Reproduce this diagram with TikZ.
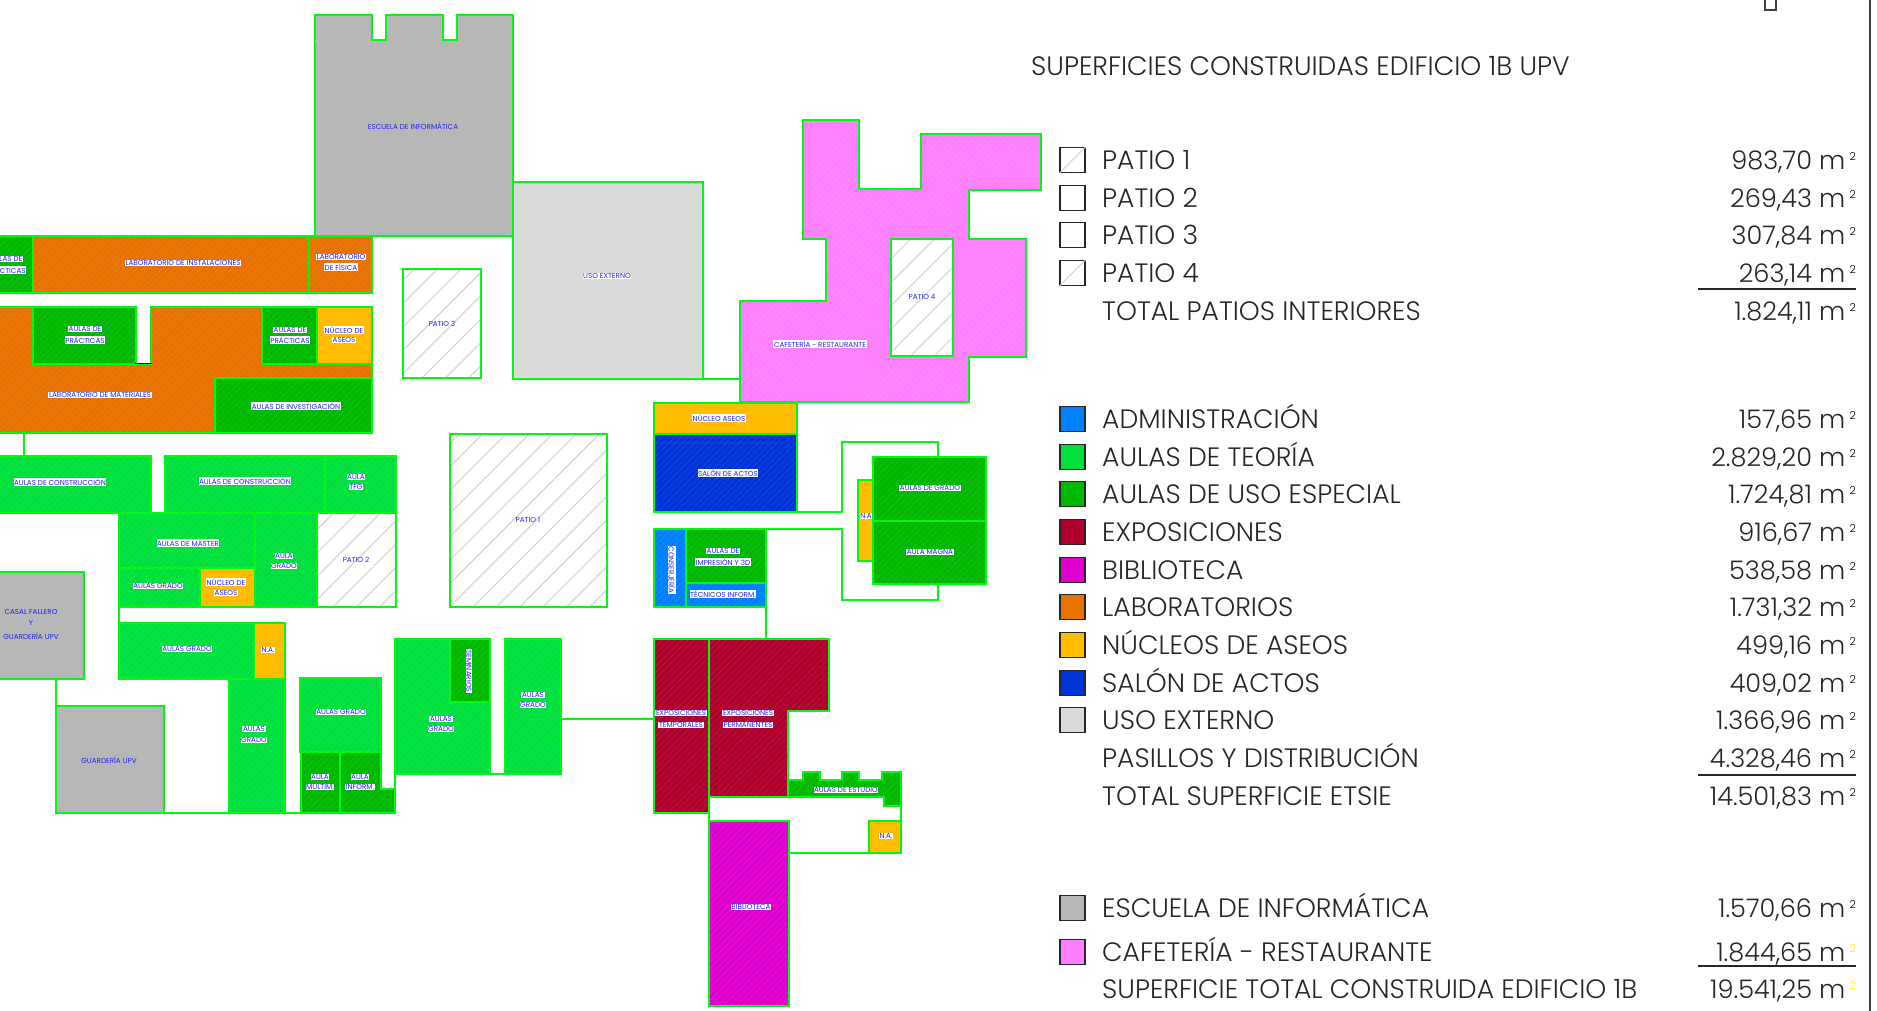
\documentclass[tikz,border=0pt]{standalone}
\usepackage{fontspec}
\setmainfont{Poppins}[UprightFont=* Light]
\newfontfamily\lblfont{Poppins}
\usetikzlibrary{patterns.meta}
\definecolor{wallgreen}{HTML}{00F814}
\definecolor{admin}{HTML}{0080FF}
\definecolor{teoria}{HTML}{00E03C}
\definecolor{especial}{HTML}{00B800}
\definecolor{expo}{HTML}{B0002C}
\definecolor{biblio}{HTML}{DF00D0}
\definecolor{labs}{HTML}{E87200}
\definecolor{aseos}{HTML}{FFBC00}
\definecolor{salon}{HTML}{0033D8}
\definecolor{usoext}{HTML}{D9D9D9}
\definecolor{escuela}{HTML}{B7B7B7}
\definecolor{cafe}{HTML}{FF80FF}
\definecolor{inkblue}{HTML}{2525F0}
\newcommand{\sqm}[1][black]{m\,\raisebox{9pt}{\fontsize{11}{11}\selectfont\textcolor{#1}{2}}}
\tikzset{
  room/.style={preaction={fill=#1},
    preaction={pattern={Lines[angle=45,distance=4.5pt,line width=.35pt]},pattern color=#1!85!white},
    draw=wallgreen,line width=2pt},
  plain/.style={fill=#1,draw=wallgreen,line width=2pt},
  patio/.style={preaction={fill=white},
    preaction={pattern={Lines[angle=45,distance=16.5pt,line width=1pt]},pattern color=black!18},
    draw=wallgreen,line width=2pt},
  wall/.style={draw=wallgreen,line width=2pt},
  lbl/.style={fill=white,inner sep=.6pt,text=inkblue,font=\lblfont\fontsize{7.2}{8}\selectfont},
  bare/.style={inner sep=.6pt,text=inkblue,font=\lblfont\fontsize{7.2}{8}\selectfont},
  keybox/.style={draw=black!85,line width=1.4pt,minimum size=25pt,inner sep=0pt},
  keytxt/.style={anchor=base west,inner sep=0pt,font=\fontsize{26.6}{26.6}\selectfont,text=black!85},
  keyval/.style={anchor=base east,inner sep=0pt,font=\fontsize{25.6}{25.6}\selectfont,text=black!85}
}
\begin{document}
\begin{tikzpicture}
  [x=1pt,y=-1pt]
  \useasboundingbox (0,0) rectangle (1877,1010);

  % top blocks
  \draw[plain=escuela] (315,15) -- (372,15) -- (372,40) -- (386,40) -- (386,15) -- (443,15)
    -- (443,40) -- (457,40) -- (457,15) -- (513,15) -- (513,236) -- (315,236) -- cycle;
  \draw[black!25,line width=.4pt] (315,40) -- (513,236) (315,40) -- (372,40);
  \draw[room=usoext] (513,182) rectangle (703,379);
  \draw[patio] (403,269) rectangle (481,378);
  \draw[patio] (450,434) rectangle (607,607);
  \draw[room=cafe] (803,120) -- (859,120) -- (859,189) -- (921,189) -- (921,134) -- (1041,134)
    -- (1041,190) -- (969,190) -- (969,239) -- (1026,239) -- (1026,357) -- (969,357) -- (969,402)
    -- (740,402) -- (740,301) -- (826,301) -- (826,239) -- (803,239) -- cycle;
  \draw[patio] (891,239) rectangle (953,356);

  % labs
  \draw[room=especial] (-5,236) rectangle (33,293);
  \draw[room=labs] (33,236) rectangle (309,293);
  \draw[room=labs] (309,236) rectangle (372,293);
  \draw[room=labs] (-5,307) -- (136,307) -- (136,364) -- (151,364) -- (151,307) -- (372,307)
    -- (372,433) -- (-5,433) -- cycle;
  \draw[room=especial] (33,307) rectangle (136,364);
  \draw[room=especial] (262,307) rectangle (317,364);
  \draw[plain=aseos] (317,307) rectangle (372,364);
  \draw[room=especial] (215,378) rectangle (372,433);
  \draw[black,line width=1.3pt] (135,363.5) -- (152,363.5);

  % aulas, left side
  \draw[room=teoria] (-5,456) rectangle (151,513);
  \draw[room=teoria] (165,456) rectangle (325,513);
  \draw[room=teoria] (325,456) rectangle (396,513);
  \draw[room=teoria] (119,513) rectangle (255,568);
  \draw[room=teoria] (255,513) rectangle (317,607);
  \draw[patio] (317,513) rectangle (396,607);
  \draw[room=teoria] (119,568) rectangle (200,607);
  \draw[plain=aseos] (200,568) rectangle (255,607);
  \draw[room=teoria] (119,623) rectangle (254,679);
  \draw[plain=aseos] (254,623) rectangle (285,679);
  \draw[room=teoria] (229,679) rectangle (285,813);
  \draw[plain=escuela] (-5,572) rectangle (84,679);
  \draw[black!25,line width=.4pt] (-5,590) -- (84,679);
  \draw[plain=escuela] (56,706) rectangle (164,813);
  \draw[black!25,line width=.4pt] (56,706) -- (164,813);
  \draw[room=teoria] (300,678) rectangle (381,752);
  \draw[room=especial] (301,752) rectangle (340,813);
  \draw[room=especial] (340,752) -- (381,752) -- (381,789) -- (395,789) -- (395,813) -- (340,813) -- cycle;
  \draw[room=teoria] (395,639) rectangle (490,774);
  \draw[room=especial] (450,639) rectangle (490,702);
  \draw[room=teoria] (505,639) rectangle (561,774);

  % centre and right
  \draw[plain=aseos] (654,403) rectangle (797,434);
  \draw[room=salon] (654,434) rectangle (797,512);
  \draw[plain=aseos] (858,480) rectangle (873,561);
  \draw[room=especial] (873,457) rectangle (986,521);
  \draw[room=especial] (873,521) rectangle (986,584);
  \draw[room=admin] (654,529) rectangle (686,607);
  \draw[room=especial] (686,529) rectangle (766,583);
  \draw[room=admin] (686,583) rectangle (766,607);
  \draw[room=expo] (654,639) rectangle (709,813);
  \draw[room=expo] (709,639) -- (829,639) -- (829,711) -- (788,711) -- (788,797) -- (709,797) -- cycle;
  \draw[room=especial] (788,797) -- (788,780) -- (803,780) -- (803,772) -- (820,772) -- (820,780)
    -- (842,780) -- (842,772) -- (859,772) -- (859,780) -- (882,780) -- (882,772) -- (901,772)
    -- (901,806) -- (884,806) -- (884,797) -- cycle;
  \draw[plain=aseos] (869,821) rectangle (901,853);
  \draw[room=biblio] (709,821) rectangle (789,1006);

  % walls
  \coordinate (w1) at (24,433);   \coordinate (w2) at (24,456);
  \coordinate (w3) at (119,607);  \coordinate (w4) at (119,623);
  \coordinate (w5) at (56,679);   \coordinate (w6) at (56,706);
  \coordinate (w7) at (164,813);  \coordinate (w8) at (301,813);
  \coordinate (w9) at (395,774);  \coordinate (w10) at (395,789);
  \coordinate (w11) at (490,774); \coordinate (w12) at (505,774);
  \coordinate (w13) at (561,719); \coordinate (w14) at (654,719);
  \coordinate (w15) at (797,512); \coordinate (w16) at (842,512);
  \coordinate (w17) at (842,442); \coordinate (w18) at (938,442);
  \coordinate (w19) at (938,457); \coordinate (w20) at (938,584);
  \coordinate (w21) at (938,600); \coordinate (w22) at (842,600);
  \coordinate (w23) at (842,529); \coordinate (w24) at (766,529);
  \coordinate (w25) at (766,607); \coordinate (w26) at (766,639);
  \coordinate (w27) at (703,379); \coordinate (w28) at (740,379);
  \coordinate (w29) at (901,806); \coordinate (w30) at (901,821);
  \coordinate (w31) at (789,853); \coordinate (w32) at (869,853);
  \coordinate (w33) at (709,797); \coordinate (w34) at (709,821);
  \foreach \from/\to in {w1/w2,w3/w4,w5/w6,w7/w8,w9/w10,w11/w12,w13/w14,w15/w16,w16/w17,w17/w18,
    w18/w19,w20/w21,w21/w22,w22/w23,w23/w24,w25/w26,w27/w28,w29/w30,w31/w32,w33/w34}
    \draw[wall,line cap=rect] (\from) -- (\to);

  % room labels
  \node[bare] (nEsc) at (413,126) {ESCUELA DE INFORMÁTICA};
  \node[lbl] (nUso) at (607,276) {USO EXTERNO};
  \node[bare] (nPat3) at (442,324) {PATIO 3};
  \node[bare] (nPat1) at (528,520) {PATIO 1};
  \node[bare] (nPat2) at (356,560) {PATIO 2};
  \node[bare] (nPat4) at (922,297) {PATIO 4};
  \node[lbl] (nCafe) at (820,344) {CAFETERÍA - RESTAURANTE};
  \node[lbl] (nPr1a) at (6,259) {AULAS DE};
  \node[lbl] (nPr1b) at (6,270) {PRÁCTICAS};
  \node[lbl] (nInst) at (183,263) {LABORATORIO DE INSTALACIONES};
  \node[lbl] (nFisa) at (341,257) {LABORATORIO};
  \node[lbl] (nFisb) at (341,267) {DE FÍSICA};
  \node[lbl] (nPr2a) at (85,329) {AULAS DE};
  \node[lbl] (nPr2b) at (85,340) {PRÁCTICAS};
  \node[lbl] (nPr3a) at (290,330) {AULAS DE};
  \node[lbl] (nPr3b) at (290,340) {PRÁCTICAS};
  \node[lbl] (nAs1a) at (344,330) {NÚCLEO DE};
  \node[lbl] (nAs1b) at (344,340) {ASEOS};
  \node[lbl] (nMat) at (100,395) {LABORATORIO DE MATERIALES};
  \node[lbl] (nInv) at (296,406) {AULAS DE INVESTIGACIÓN};
  \node[lbl] (nCon1) at (60,482) {AULAS DE CONSTRUCCIÓN};
  \node[lbl] (nCon2) at (245,481) {AULAS DE CONSTRUCCIÓN};
  \node[lbl] (nTfga) at (356,477) {AULA};
  \node[lbl] (nTfgb) at (356,487) {TFG};
  \node[lbl] (nMas) at (188,543) {AULAS DE MÁSTER};
  \node[lbl] (nGr1a) at (284,556) {AULA};
  \node[lbl] (nGr1b) at (284,566) {GRADO};
  \node[lbl] (nGr2) at (158,586) {AULAS GRADO};
  \node[lbl] (nAs2a) at (226,582) {NÚCLEO DE};
  \node[lbl] (nAs2b) at (226,593) {ASEOS};
  \node[lbl] (nGr3) at (187,649) {AULAS GRADO};
  \node[lbl] (nNa1) at (268,650) {N.A.};
  \node[lbl] (nGr4a) at (254,729) {AULAS};
  \node[lbl] (nGr4b) at (254,740) {GRADO};
  \node[bare] (nCasa) at (31,612) {CASAL FALLERO};
  \node[bare] (nCasb) at (31,623) {Y};
  \node[bare] (nCasc) at (31,636) {GUARDERÍA UPV};
  \node[bare] (nGua) at (109,760) {GUARDERÍA UPV};
  \node[lbl] (nGr5) at (341,712) {AULAS GRADO};
  \node[lbl] (nMula) at (320,777) {AULA};
  \node[lbl] (nMulb) at (320,787) {MULTIM.};
  \node[lbl] (nInfa) at (360,777) {AULA};
  \node[lbl] (nInfb) at (360,787) {INFORM.};
  \node[lbl,rotate=-90] (nSem) at (469,671) {SEMINARIOS};
  \node[lbl] (nGr6a) at (441,719) {AULAS};
  \node[lbl] (nGr6b) at (441,729) {GRADO};
  \node[lbl] (nGr7a) at (533,695) {AULAS};
  \node[lbl] (nGr7b) at (533,705) {GRADO};
  \node[lbl] (nAs3) at (719,418) {NÚCLEO ASEOS};
  \node[lbl] (nSal) at (728,473) {SALÓN DE ACTOS};
  \node[lbl] (nNa2) at (866,516) {N.A};
  \node[lbl] (nGr8) at (930,488) {AULAS DE GRADO};
  \node[lbl] (nMag) at (930,552) {AULA MAGNA};
  \node[lbl,rotate=-90] (nCons) at (672,570) {CONSERJERÍA};
  \node[lbl] (nImpa) at (723,551) {AULAS DE};
  \node[lbl] (nImpb) at (723,562) {IMPRESIÓN Y 3D};
  \node[lbl] (nTec) at (723,594) {TÉCNICOS INFORM.};
  \node[lbl] (nExTa) at (681,713) {EXPOSICIONES};
  \node[lbl] (nExTb) at (681,725) {TEMPORALES};
  \node[lbl] (nExPa) at (748,713) {EXPOSICIONES};
  \node[lbl] (nExPb) at (748,725) {PERMANENTES};
  \node[lbl] (nEst) at (846,790) {AULAS DE ESTUDIO};
  \node[lbl] (nNa3) at (886,836) {N.A.};
  \node[lbl] (nBib) at (751,907) {BIBLIOTECA};

  % key
  \node[keytxt] (title) at (1031,75) {SUPERFICIES CONSTRUIDAS EDIFICIO 1B UPV};
  \foreach \y/\col/\txt/\val in {160/white/PATIO 1/{983,70},198/white/PATIO 2/{269,43},
    235/white/PATIO 3/{307,84},273/white/PATIO 4/{263,14},
    419/admin/ADMINISTRACIÓN/{157,65},457/teoria/AULAS DE TEORÍA/{2.829,20},
    494/especial/AULAS DE USO ESPECIAL/{1.724,81},532/expo/EXPOSICIONES/{916,67},
    570/biblio/BIBLIOTECA/{538,58},607/labs/LABORATORIOS/{1.731,32},
    645/aseos/NÚCLEOS DE ASEOS/{499,16},683/salon/SALÓN DE ACTOS/{409,02},
    720/usoext/USO EXTERNO/{1.366,96},908/escuela/ESCUELA DE INFORMÁTICA/{1.570,66}}
  {
    \node[keybox,fill=\col] (box\y) at (1072.5,\y) {};
    \node[keytxt] (txt\y) at (1102,\y+9) {\txt};
    \node[keyval] (val\y) at (1856,\y+9) {\val\ \sqm};
  }
  \draw[black!18,line width=.8pt] (box160.south west) -- (box160.north east);
  \draw[black!18,line width=.8pt] (box273.south west) -- (box273.north east);
  \node[keybox,fill=cafe] (box953) at (1072.5,952) {};
  \foreach \y/\txt/\val in {311/TOTAL PATIOS INTERIORES/{1.824,11},
    758/PASILLOS Y DISTRIBUCIÓN/{4.328,46},796/TOTAL SUPERFICIE ETSIE/{14.501,83}}
  {
    \node[keytxt] (txt\y) at (1102,\y+9) {\txt};
    \node[keyval] (val\y) at (1856,\y+9) {\val\ \sqm};
  }
  \node[keytxt] (txt953) at (1102,961) {CAFETERÍA - RESTAURANTE};
  \node[keyval] (val953) at (1856,961) {1.844,65 \sqm[yellow]};
  \node[keytxt] (txt990) at (1102,998) {SUPERFICIE TOTAL CONSTRUIDA EDIFICIO 1B};
  \node[keyval] (val990) at (1856,998) {19.541,25 \sqm[yellow]};

  % sum rules and sheet frame
  \foreach \y in {289,775,966}
    \draw[black!85,line width=1.6pt] (1698,\y) -- (1856,\y);
  \draw[black!75,line width=2pt] (1870,-5) -- (1870,1015);
  \draw[black!75,line width=1.5pt] (1765,-5) rectangle (1776,10);
\end{tikzpicture}
\end{document}
